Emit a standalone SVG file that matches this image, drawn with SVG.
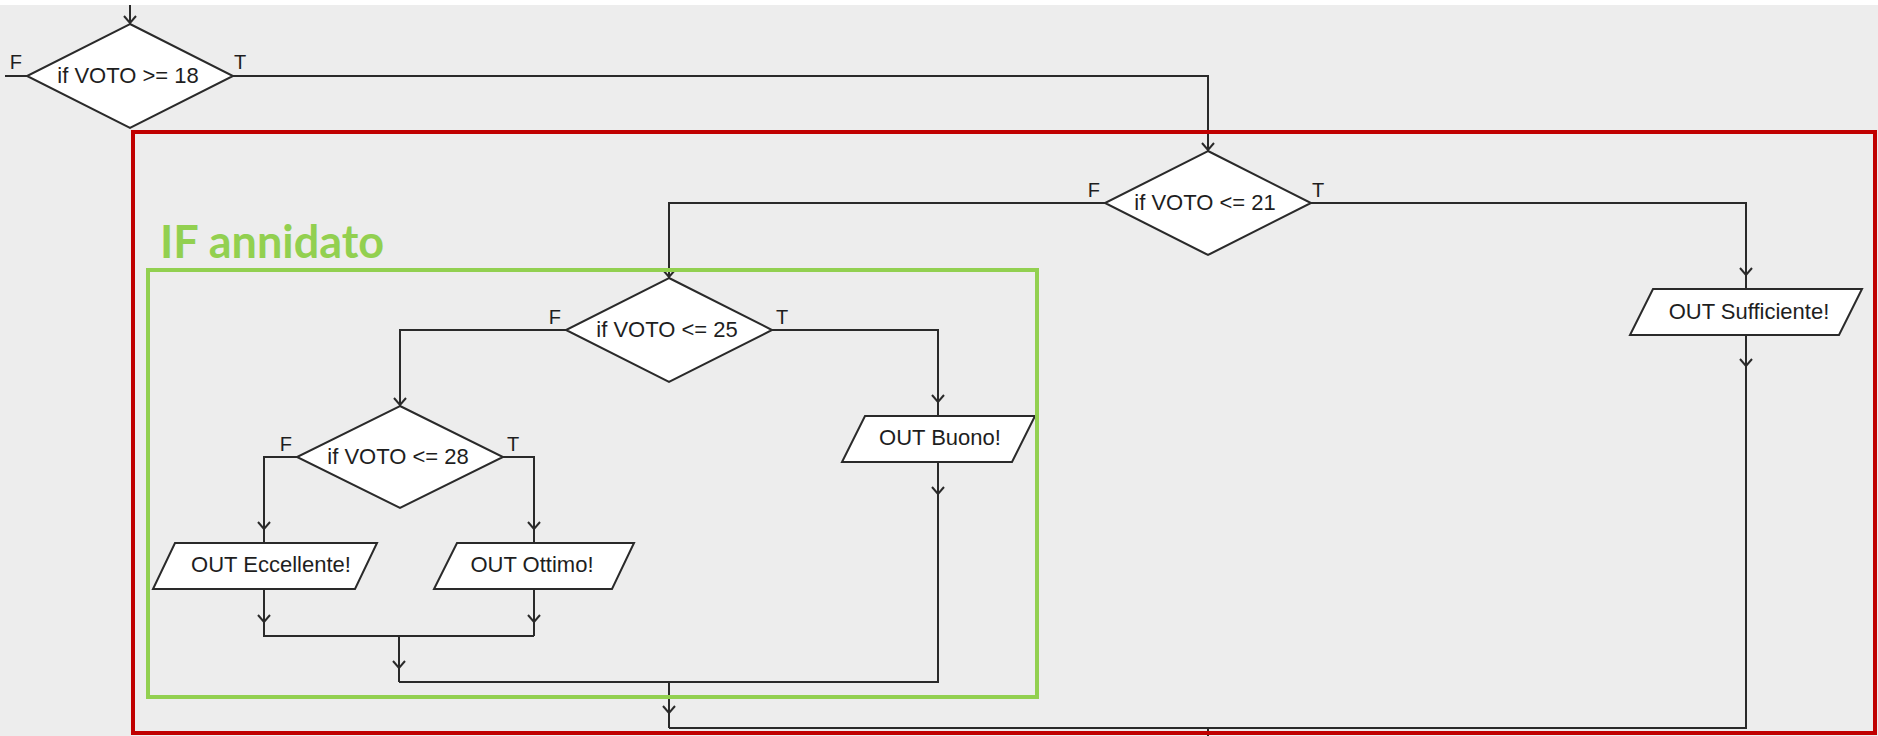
<svg xmlns="http://www.w3.org/2000/svg" width="1878" height="736" viewBox="0 0 1878 736">
<defs>
<style>
.bg{fill:#EDEDED}
.node{fill:#FFFFFF;stroke:#2A2A2A;stroke-width:2;stroke-linejoin:miter}
.edge{fill:none;stroke:#2A2A2A;stroke-width:2}
.lbl{font-family:"Liberation Sans",Arial,sans-serif;font-size:22px;fill:#1E1E1E}
.ft{font-family:"Liberation Sans",Arial,sans-serif;font-size:20px;fill:#1E1E1E}
.red{fill:none;stroke:#C00000;stroke-width:4}
.green{fill:none;stroke:#92D050;stroke-width:4}
.title{font-family:Lato,"Open Sans",sans-serif;font-weight:bold;font-size:45px;fill:#92D050}
</style>
<path id="chev" d="M-6,-7 L0,0 L6,-7" fill="none" stroke="#2A2A2A" stroke-width="2"/>
</defs>
<rect x="0" y="0" width="1878" height="736" class="bg"/>
<rect x="0" y="0" width="1878" height="5" fill="#FFFFFF"/>

<g id="connectors">
<path class="edge" d="M130,5 V24"/>
<path class="edge" d="M27,76 H5"/>
<path class="edge" d="M233,76 H1208 V151"/>
<path class="edge" d="M1105,203 H669 V278"/>
<path class="edge" d="M1311,203 H1746 V289"/>
<path class="edge" d="M1746,335 V728 H669"/>
<path class="edge" d="M1208,728 V736"/>
<path class="edge" d="M566,330 H400 V406"/>
<path class="edge" d="M772,330 H938 V416"/>
<path class="edge" d="M938,462 V682 H399"/>
<path class="edge" d="M297,457 H264 V543"/>
<path class="edge" d="M503,457 H534 V543"/>
<path class="edge" d="M264,589 V636 H534"/>
<path class="edge" d="M534,589 V636"/>
<path class="edge" d="M399,636 V682"/>
<path class="edge" d="M669,682 V728"/>
<use href="#chev" x="130" y="23"/>
<use href="#chev" x="1208" y="150"/>
<use href="#chev" x="669" y="277"/>
<use href="#chev" x="1746" y="275"/>
<use href="#chev" x="400" y="405"/>
<use href="#chev" x="938" y="402"/>
<use href="#chev" x="264" y="529"/>
<use href="#chev" x="534" y="529"/>
<use href="#chev" x="264" y="622"/>
<use href="#chev" x="534" y="622"/>
<use href="#chev" x="938" y="494"/>
<use href="#chev" x="1746" y="366"/>
<use href="#chev" x="399" y="668"/>
<use href="#chev" x="669" y="713"/>
</g>

<g id="if18">
<polygon class="node" points="130,24 233,76 130,128 27,76"/>
<text class="lbl" x="128" y="83" text-anchor="middle">if VOTO &gt;= 18</text>
<text class="ft" x="22" y="69" text-anchor="end">F</text>
<text class="ft" x="234" y="69">T</text>
</g>

<g id="if21">
<polygon class="node" points="1208,151 1311,203 1208,255 1105,203"/>
<text class="lbl" x="1205" y="210" text-anchor="middle">if VOTO &lt;= 21</text>
<text class="ft" x="1100" y="197" text-anchor="end">F</text>
<text class="ft" x="1312" y="197">T</text>
</g>

<g id="if25">
<polygon class="node" points="669,278 772,330 669,382 566,330"/>
<text class="lbl" x="667" y="337" text-anchor="middle">if VOTO &lt;= 25</text>
<text class="ft" x="561" y="324" text-anchor="end">F</text>
<text class="ft" x="776" y="324">T</text>
</g>

<g id="if28">
<polygon class="node" points="400,406 503,457 400,508 297,457"/>
<text class="lbl" x="398" y="464" text-anchor="middle">if VOTO &lt;= 28</text>
<text class="ft" x="292" y="451" text-anchor="end">F</text>
<text class="ft" x="507" y="451">T</text>
</g>

<g id="outSufficiente">
<polygon class="node" points="1653,289 1862,289 1839,335 1630,335"/>
<text class="lbl" x="1749" y="319" text-anchor="middle">OUT Sufficiente!</text>
</g>

<g id="outBuono">
<polygon class="node" points="865,416 1035,416 1012,462 842,462"/>
<text class="lbl" x="940" y="445" text-anchor="middle">OUT Buono!</text>
</g>

<g id="outEccellente">
<polygon class="node" points="175,543 377,543 355,589 153,589"/>
<text class="lbl" x="271" y="572" text-anchor="middle">OUT Eccellente!</text>
</g>

<g id="outOttimo">
<polygon class="node" points="457,543 634,543 612,589 434,589"/>
<text class="lbl" x="532" y="572" text-anchor="middle">OUT Ottimo!</text>
</g>

<g id="frames">
<rect class="red" x="133" y="132" width="1742" height="601"/>
<rect class="green" x="148" y="270" width="889" height="427"/>
<text class="title" x="160" y="258">IF annidato</text>
</g>
</svg>
